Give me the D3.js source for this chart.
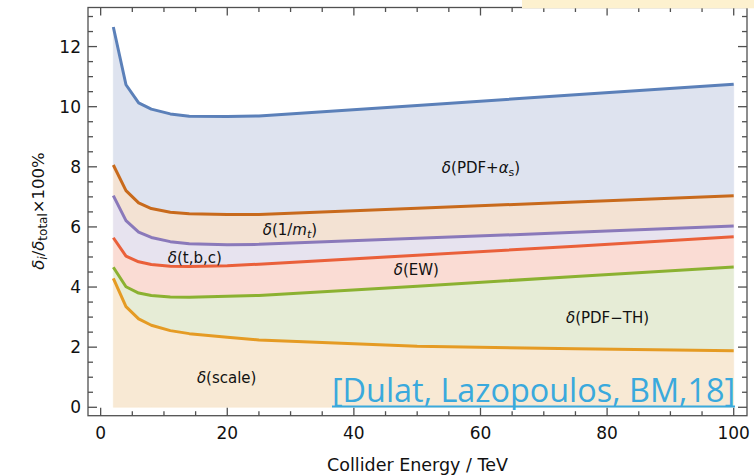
<!DOCTYPE html>
<html>
<head>
<meta charset="utf-8">
<script src="https://cdn.jsdelivr.net/npm/d3@7"></script>
<style>
  body { margin: 0; background: #fff; }
  svg { display: block; font-family: "DejaVu Sans", sans-serif; }
  .band-label { font-size: 15px; fill: #111; }
</style>
</head>
<body>
<div id="chart"></div>
<script>
// collider energy in TeV
var energies = [2, 4, 6, 8, 11, 14, 20, 25, 50, 75, 100];

// cumulative uncertainty curves (percent), bottom to top
var scaleVals = [4.29, 3.35, 2.94, 2.73, 2.55, 2.45, 2.33, 2.24, 2.03, 1.95, 1.88];
var pdfThVals = [4.66, 4.01, 3.80, 3.72, 3.67, 3.66, 3.69, 3.72, 4.03, 4.35, 4.67];
var ewVals    = [5.64, 5.03, 4.84, 4.75, 4.69, 4.68, 4.71, 4.76, 5.06, 5.36, 5.67];
var tbcVals   = [7.04, 6.21, 5.83, 5.65, 5.51, 5.44, 5.41, 5.42, 5.62, 5.82, 6.03];
var mtVals    = [8.06, 7.21, 6.80, 6.61, 6.49, 6.44, 6.41, 6.41, 6.62, 6.83, 7.04];
var pdfVals   = [12.65, 10.73, 10.13, 9.92, 9.76, 9.68, 9.67, 9.69, 10.04, 10.40, 10.75];

var xTicks = [0, 20, 40, 60, 80, 100];
var yTicks = [0, 2, 4, 6, 8, 10, 12];

var width = 754,
    height = 476,
    margin = { left: 88, top: 7.5, right: 7, bottom: 60.3 };

var series = [
    { key: 'scale', vals: scaleVals, line: '#e59b24', fill: '#f8e9d4' },
    { key: 'pdfth', vals: pdfThVals, line: '#8bb131', fill: '#e6ecd6' },
    { key: 'ew',    vals: ewVals,    line: '#ea603a', fill: '#fadcd4' },
    { key: 'tbc',   vals: tbcVals,   line: '#8a79ba', fill: '#e7e3ef' },
    { key: 'mt',    vals: mtVals,    line: '#c86a1c', fill: '#f3e2d3' },
    { key: 'pdf',   vals: pdfVals,   line: '#5b80b9', fill: '#dee3ef' }
];

var svg = d3.select('#chart').append('svg')
    .attr('width', width)
    .attr('height', height);

var xScale = d3.scaleLinear().domain([-2, 102.1]).range([margin.left, width - margin.right]);
var yScale = d3.scaleLinear().domain([-0.28, 13.3]).range([height - margin.bottom, margin.top]);

// bands between consecutive curves
var area = d3.area()
    .x(function (d) { return xScale(d.x); })
    .y0(function (d) { return yScale(d.lo); })
    .y1(function (d) { return yScale(d.hi); });

series.forEach(function (s, i) {
    var below = i === 0 ? null : series[i - 1].vals;
    var pts = energies.map(function (e, j) {
        return { x: e, lo: below ? below[j] : 0, hi: s.vals[j] };
    });
    svg.append('path')
        .datum(pts)
        .attr('d', area)
        .attr('fill', s.fill)
        .attr('stroke', s.fill)
        .attr('stroke-width', 0.6);
});

var line = d3.line()
    .x(function (d) { return xScale(d[0]); })
    .y(function (d) { return yScale(d[1]); });

series.forEach(function (s) {
    svg.append('path')
        .datum(energies.map(function (e, j) { return [e, s.vals[j]]; }))
        .attr('d', line)
        .attr('fill', 'none')
        .attr('stroke', s.line)
        .attr('stroke-width', 3)
        .attr('stroke-linejoin', 'round');
});

// frame + inward ticks
var x0 = margin.left, x1 = width - margin.right,
    y0 = height - margin.bottom, y1 = margin.top;
var frameColor = '#505050';
var frame = svg.append('g').attr('stroke', frameColor).attr('stroke-width', 1.3);
frame.append('rect')
    .attr('x', x0).attr('y', y1)
    .attr('width', x1 - x0).attr('height', y0 - y1)
    .attr('fill', 'none');

d3.range(0, 101, 5).forEach(function (v) {
    var len = v % 20 === 0 ? 8 : 4.5;
    var px = xScale(v);
    frame.append('line').attr('x1', px).attr('x2', px).attr('y1', y0).attr('y2', y0 - len);
    frame.append('line').attr('x1', px).attr('x2', px).attr('y1', y1).attr('y2', y1 + len);
});
d3.range(0, 13.01, 0.5).forEach(function (v) {
    var len = Math.abs(v % 2) < 1e-6 ? 9 : 5;
    var py = yScale(v);
    frame.append('line').attr('x1', x0).attr('x2', x0 + len).attr('y1', py).attr('y2', py);
    frame.append('line').attr('x1', x1).attr('x2', x1 - len).attr('y1', py).attr('y2', py);
});

svg.append('g').selectAll('text').data(xTicks).enter().append('text')
    .attr('x', function (d) { return xScale(d); })
    .attr('y', 439)
    .attr('text-anchor', 'middle')
    .attr('font-size', 17)
    .attr('fill', '#111')
    .text(function (d) { return d; });

svg.append('g').selectAll('text').data(yTicks).enter().append('text')
    .attr('x', 81)
    .attr('y', function (d) { return yScale(d); })
    .attr('dy', '0.36em')
    .attr('text-anchor', 'end')
    .attr('font-size', 17)
    .attr('fill', '#111')
    .text(function (d) { return d; });

// axis titles
svg.append('text')
    .attr('x', (x0 + x1) / 2)
    .attr('y', 471)
    .attr('text-anchor', 'middle')
    .attr('font-size', 17.5)
    .attr('fill', '#111')
    .text('Collider Energy / TeV');

var yt = svg.append('text')
    .attr('transform', 'translate(44,211) rotate(-90)')
    .attr('text-anchor', 'middle')
    .attr('font-size', 16.5)
    .attr('fill', '#111');
yt.append('tspan').attr('font-style', 'italic').text('δ');
yt.append('tspan').attr('font-style', 'italic').attr('font-size', 12).attr('dy', 3).text('i');
yt.append('tspan').attr('dy', -3).text('/');
yt.append('tspan').attr('font-style', 'italic').text('δ');
yt.append('tspan').attr('font-size', 12).attr('dy', 3).text('total');
yt.append('tspan').attr('dy', -3).text('×100%');

// band labels
function bandLabel(xv, yv, main) {
    var t = svg.append('text')
        .attr('class', 'band-label')
        .attr('x', xScale(xv))
        .attr('y', yScale(yv));
    t.append('tspan').attr('font-style', 'italic').text('δ');
    t.append('tspan').text(main);
    return t;
}

var pdfLabel = svg.append('text').attr('class', 'band-label')
    .attr('x', xScale(53.9)).attr('y', yScale(7.8));
pdfLabel.append('tspan').attr('font-style', 'italic').text('δ');
pdfLabel.append('tspan').text('(PDF+');
pdfLabel.append('tspan').attr('font-style', 'italic').text('α');
pdfLabel.append('tspan').attr('font-size', 11).attr('dy', 3).text('s');
pdfLabel.append('tspan').attr('dy', -3).text(')');

var mtLabel = svg.append('text').attr('class', 'band-label')
    .attr('x', xScale(25.6)).attr('y', yScale(5.73));
mtLabel.append('tspan').attr('font-style', 'italic').text('δ');
mtLabel.append('tspan').text('(1/');
mtLabel.append('tspan').attr('font-style', 'italic').text('m');
mtLabel.append('tspan').attr('font-size', 11).attr('font-style', 'italic').attr('dy', 3).text('t');
mtLabel.append('tspan').attr('dy', -3).text(')');

bandLabel(10.6, 4.80, '(t,b,c)');
bandLabel(46.3, 4.40, '(EW)');
bandLabel(73.5, 2.81, '(PDF\u2212TH)');
bandLabel(15.2, 0.81, '(scale)');

// citation
svg.append('text')
    .attr('x', 332)
    .attr('y', 402)
    .attr('font-family', 'Open Sans, sans-serif')
    .attr('font-size', 32)
    .attr('fill', '#3aa9dd')
    .attr('textLength', 403)
    .attr('lengthAdjust', 'spacingAndGlyphs')
    .text('[Dulat, Lazopoulos, BM,18]');
svg.append('line')
    .attr('x1', 332).attr('x2', 735)
    .attr('y1', 406.5).attr('y2', 406.5)
    .attr('stroke', '#3aa9dd')
    .attr('stroke-width', 2);

// pale box clipped at the top
svg.append('rect')
    .attr('x', 522).attr('y', 0)
    .attr('width', width - 522).attr('height', 8.3)
    .attr('fill', '#fdf1cf');
</script>
</body>
</html>
